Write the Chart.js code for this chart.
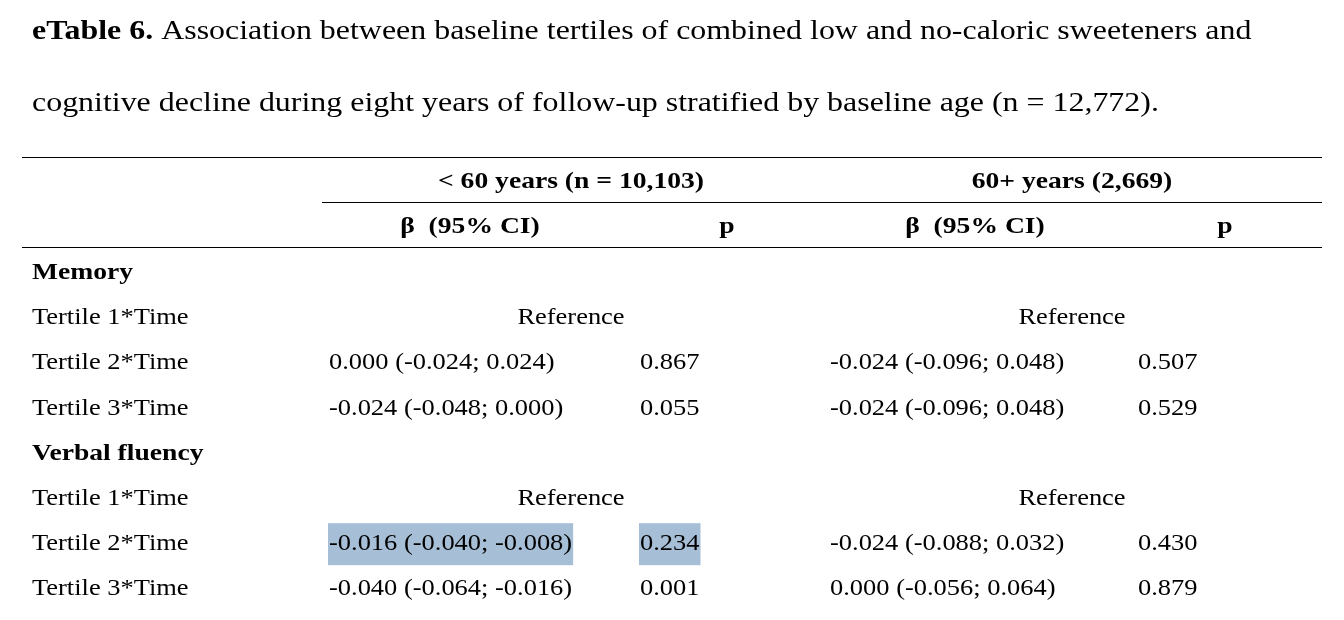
<!DOCTYPE html>
<html>
<head>
<meta charset="utf-8">
<script src="https://cdn.jsdelivr.net/npm/chart.js@4"></script>
<style>
  html, body { margin: 0; padding: 0; background: #fff; }
  #wrap { width: 1344px; height: 620px; }
</style>
</head>
<body>
<div id="wrap"><canvas id="tbl"></canvas></div>
<script>
// === DATA ===
const groupHeaders = ['< 60 years (n = 10,103)', '60+ years (2,669)'];
const colHeaders = ['β  (95% CI)', 'p', 'β  (95% CI)', 'p'];
const rowLabels = ['Memory', 'Tertile 1*Time', 'Tertile 2*Time', 'Tertile 3*Time',
                   'Verbal fluency', 'Tertile 1*Time', 'Tertile 2*Time', 'Tertile 3*Time'];
const sectionRows = [0, 4];
const referenceRows = [1, 5];
const ciYoung = ['', '', '0.000 (-0.024; 0.024)', '-0.024 (-0.048; 0.000)', '', '', '-0.016 (-0.040; -0.008)', '-0.040 (-0.064; -0.016)'];
const pYoung  = ['', '', '0.867', '0.055', '', '', '0.234', '0.001'];
const ciOld   = ['', '', '-0.024 (-0.096; 0.048)', '-0.024 (-0.096; 0.048)', '', '', '-0.024 (-0.088; 0.032)', '0.000 (-0.056; 0.064)'];
const pOld    = ['', '', '0.507', '0.529', '', '', '0.430', '0.879'];
const highlightRow = 6;

// === LAYOUT (pixel space of the table) ===
const W = 1344, H = 620;
const rowY0 = 273, rowStep = 45.2;
const colX = { label: 32, ci1: 329, p1: 640, ci2: 830, p2: 1138 };
const refX = [571, 1072];
const serif = '"Liberation Serif", "DejaVu Serif", serif';
const bodySize = 23, stretch = 1.15;

function rowY(i) { return rowY0 + i * rowStep; }

const cells = [];
rowLabels.forEach((t, i) => {
  cells.push({ x: colX.label, y: rowY(i), text: t, bold: sectionRows.includes(i) });
  if (referenceRows.includes(i)) {
    cells.push({ x: refX[0], y: rowY(i), text: 'Reference', center: true });
    cells.push({ x: refX[1], y: rowY(i), text: 'Reference', center: true });
  }
  if (ciYoung[i]) cells.push({ x: colX.ci1, y: rowY(i), text: ciYoung[i], hl: i === highlightRow });
  if (pYoung[i]) cells.push({ x: colX.p1, y: rowY(i), text: pYoung[i], hl: i === highlightRow });
  if (ciOld[i]) cells.push({ x: colX.ci2, y: rowY(i), text: ciOld[i] });
  if (pOld[i]) cells.push({ x: colX.p2, y: rowY(i), text: pOld[i] });
});
cells.push({ x: refX[0], y: 182, text: groupHeaders[0], bold: true, center: true });
cells.push({ x: refX[1], y: 182, text: groupHeaders[1], bold: true, center: true });
cells.push({ x: 470, y: 227, text: colHeaders[0], bold: true, center: true });
cells.push({ x: 727, y: 227, text: colHeaders[1], bold: true, center: true });
cells.push({ x: 975, y: 227, text: colHeaders[2], bold: true, center: true });
cells.push({ x: 1225, y: 227, text: colHeaders[3], bold: true, center: true });

const ruleStyle = { borderColor: '#000', borderWidth: 1, pointRadius: 0, showLine: true, fill: false };

// draw text stretched horizontally around its anchor
function drawStretched(ctx, text, px, py, sx, align) {
  ctx.save();
  ctx.translate(px, py);
  ctx.scale(sx, 1);
  ctx.textAlign = align;
  ctx.fillText(text, 0, 0);
  ctx.restore();
}

const textPlugin = {
  id: 'tableText',
  beforeDatasetsDraw(chart) {
    const ctx = chart.ctx, xs = chart.scales.x, ys = chart.scales.y;
    ctx.save();
    ctx.font = bodySize + 'px ' + serif;
    cells.filter(c => c.hl).forEach(c => {
      const w = ctx.measureText(c.text).width * stretch;
      ctx.fillStyle = '#a6bfd6';
      ctx.fillRect(xs.getPixelForValue(c.x) - 1, ys.getPixelForValue(c.y) - 21, w + 2, 42);
    });
    ctx.restore();
  },
  afterDatasetsDraw(chart) {
    const ctx = chart.ctx, xs = chart.scales.x, ys = chart.scales.y;
    ctx.save();
    ctx.fillStyle = '#000';
    ctx.textBaseline = 'middle';
    chart.data.datasets[0].data.forEach(c => {
      ctx.font = (c.bold ? 'bold ' : '') + bodySize + 'px ' + serif;
      drawStretched(ctx, c.text, xs.getPixelForValue(c.x), ys.getPixelForValue(c.y),
                    c.bold ? 1.2 : stretch, c.center ? 'center' : 'left');
    });
    // title
    const tx = xs.getPixelForValue(32), ts = 1.14;
    ctx.font = 'bold 28px ' + serif;
    const lead = 'eTable 6.';
    drawStretched(ctx, lead, tx, ys.getPixelForValue(32), ts, 'left');
    const lw = ctx.measureText(lead).width * ts;
    ctx.font = '28px ' + serif;
    drawStretched(ctx, ' Association between baseline tertiles of combined low and no-caloric sweeteners and',
                  tx + lw, ys.getPixelForValue(32), ts, 'left');
    drawStretched(ctx, 'cognitive decline during eight years of follow-up stratified by baseline age (n = 12,772).',
                  tx, ys.getPixelForValue(104), ts, 'left');
    ctx.restore();
  }
};

new Chart(document.getElementById('tbl'), {
  type: 'scatter',
  data: {
    datasets: [
      { data: cells, pointRadius: 0 },
      Object.assign({ data: [{ x: 22, y: 157.5 }, { x: 1322, y: 157.5 }] }, ruleStyle),
      Object.assign({ data: [{ x: 322, y: 202.5 }, { x: 1322, y: 202.5 }] }, ruleStyle),
      Object.assign({ data: [{ x: 22, y: 247.5 }, { x: 1322, y: 247.5 }] }, ruleStyle),
    ],
  },
  options: {
    responsive: true,
    maintainAspectRatio: false,
    animation: false,
    layout: { padding: 0 },
    scales: {
      x: { type: 'linear', min: 0, max: W, display: false },
      y: { type: 'linear', min: 0, max: H, reverse: true, display: false },
    },
    plugins: { legend: { display: false }, tooltip: { enabled: false } },
  },
  plugins: [textPlugin],
});
</script>
</body>
</html>
